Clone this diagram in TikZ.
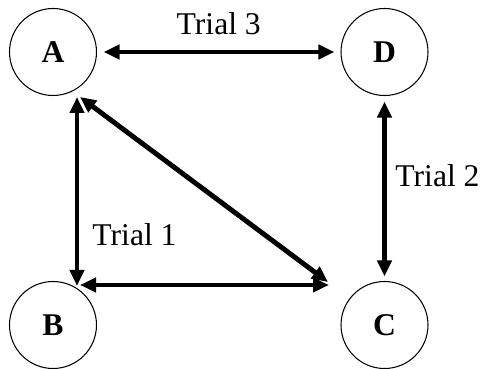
\documentclass[tikz,border=0pt]{standalone}
\usepackage{fontspec}
\setmainfont{Liberation Serif}
\usetikzlibrary{arrows.meta}
\usetikzlibrary{calc}
\tikzstyle{vertex}=[circle,draw,line width=0.6pt,minimum size=1.74cm,inner sep=0pt,font=\fontsize{18}{22}\selectfont\bfseries]
\tikzstyle{edge} = [draw,line width=2.8pt,>={Triangle[length=0.32cm,width=0.28cm]},<->]
\tikzstyle{trial} = [font=\fontsize{18}{22}\selectfont,inner sep=0pt]

\begin{document}
\begin{tikzpicture}
    \useasboundingbox (0,0) rectangle (9.7,7.36);

    \foreach \pos/ \name in {{(1.06,6.32)/A},{(7.69,6.32)/D}, {(1.06,0.86)/B}, {(7.69,0.86)/C}}
        \node[vertex] (\name) at \pos{\name};

    % trials along the square
    \path[edge, shorten <=0.13cm, shorten >=0.12cm] (A) -- node[trial,above=0.3cm] {Trial 3} (D);
    \path[edge, shorten <=0.11cm, shorten >=0.09cm] (D) -- node[trial,right=0.17cm,pos=0.43] {Trial 2} (C);
    \path[edge] ([shift={(0.48,-0.9)}]A.center) -- node[trial,right=0.26cm,pos=0.73] {Trial 1} ([shift={(0.48,0.78)}]B.center);

    \path[edge] ([shift={(0.54,0.8)}]B.center) -- ([shift={(-1.11,0.8)}]C.center);
    \path[edge] ([shift={(0.54,-0.9)}]A.center) -- ([shift={(-1.13,0.86)}]C.center);

\end{tikzpicture}
\end{document}
